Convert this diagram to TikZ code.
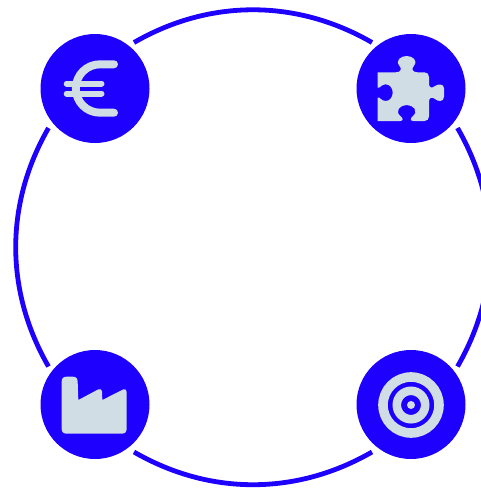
\documentclass[tikz,border=0pt]{standalone}
\usepackage{tikz}
\usetikzlibrary{positioning}

\definecolor{hubblue}{HTML}{1E00FF}
\definecolor{iconpale}{HTML}{D0DDE5}

\begin{document}
\begin{tikzpicture}[
    x = 1pt,
    y = -1pt,
    hub/.style = {circle, fill = hubblue, minimum size = 109pt, inner sep = 0pt}, % corner discs
    ringline/.style = {draw = hubblue, line width = 4.8pt, bend left = 30, looseness = 0.94}, % ring pieces
    iconfill/.style = {fill = iconpale, draw = none},
    iconline/.style = {draw = iconpale, line cap = round}
    ]

    \useasboundingbox (0,0) rectangle (481,488);

    \node[hub] (euro) at (95,88.5) {};
    \node[hub] (puzzle) at (411,88.5) {};
    \node[hub] (factory) at (95,404.5) {};
    \node[hub] (target) at (411,404.5) {};

    % free ends of the ring pieces
    \coordinate (eurotop) at (134,42.5);
    \coordinate (puzzletop) at (372,42.5);
    \coordinate (puzzleside) at (457.5,128);
    \coordinate (targetside) at (457.5,366.5);
    \coordinate (targetlow) at (372,452);
    \coordinate (factorylow) at (134,452);
    \coordinate (factoryside) at (48.5,366.5);
    \coordinate (euroside) at (48.5,128);

    \path[ringline] (eurotop) edge (puzzletop);
    \path[ringline] (puzzleside) edge (targetside);
    \path[ringline] (targetlow) edge (factorylow);
    \path[ringline] (factoryside) edge (euroside);

    % euro
    \draw[iconline, line width = 8pt] (114,64.3) -- (100,64.3) arc[start angle=-90, end angle=-270, radius=24.2] -- (114,112.7);
    \draw[iconline, line width = 6pt] (66.7,83.5) -- (101.5,83.5);
    \draw[iconline, line width = 6pt] (66.7,93.5) -- (101.5,93.5);

    % puzzle piece
    \begin{scope}[shift={(345,25)}, scale=1/3]
        \fill[iconfill] (98,142) -- (152,142)
            .. controls (170,142) and (170,130) .. (163,122)
            .. controls (150,106) and (168,93) .. (185,93)
            .. controls (202,93) and (220,106) .. (207,122)
            .. controls (200,130) and (200,142) .. (218,142)
            -- (238,142) .. controls (247,142) and (252,147) .. (252,156)
            -- (252,176) .. controls (252,190) and (262,190) .. (270,183)
            .. controls (278,177) and (297,175) .. (297,190)
            -- (297,215) .. controls (297,232) and (278,230) .. (270,222)
            .. controls (262,216) and (252,216) .. (252,230)
            -- (252,274) .. controls (252,283) and (247,288) .. (238,288)
            -- (205,288) .. controls (195,288) and (195,280) .. (203,274)
            .. controls (222,258) and (205,240) .. (185,240)
            .. controls (165,240) and (148,258) .. (167,274)
            .. controls (175,280) and (175,288) .. (165,288)
            -- (98,288) -- (98,218)
            .. controls (104,214) and (108,228) .. (122,228)
            .. controls (135,228) and (143,216) .. (143,203)
            .. controls (143,190) and (135,178) .. (122,178)
            .. controls (108,178) and (104,192) .. (98,188)
            -- cycle;
    \end{scope}

    % factory
    \begin{scope}[shift={(30,340)}, scale=1/3]
        \fill[iconfill] (110,110) -- (128,110)
            .. controls (138,110) and (143,115) .. (143,125)
            -- (145,180) -- (205,148)
            .. controls (212,145) and (216,149) .. (216,155)
            -- (217,180) -- (280,148)
            .. controls (286,146) and (290,150) .. (290,156)
            -- (290,266) .. controls (290,276) and (285,281) .. (275,281)
            -- (110,281) .. controls (100,281) and (95,276) .. (95,266)
            -- (95,125) .. controls (95,115) and (100,110) .. (110,110) -- cycle;
    \end{scope}

    % target
    \draw[draw = iconpale, line width = 9.6pt] (target) ++(0,0.5) circle[radius=28];
    \draw[draw = iconpale, line width = 8.6pt] (target) ++(0,0.5) circle[radius=14.2];
    \fill[iconfill] (target) ++(0,0.5) circle[radius=4];
\end{tikzpicture}
\end{document}
